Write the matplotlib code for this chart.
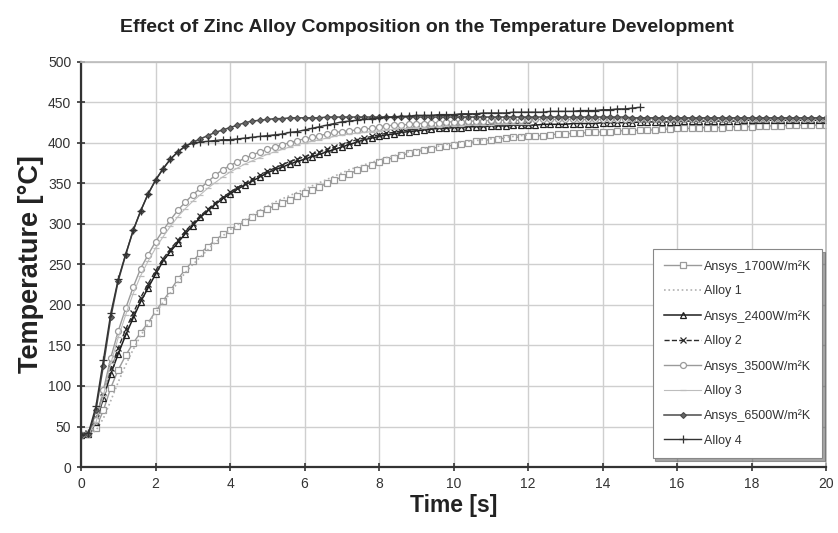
import numpy as np
import matplotlib
matplotlib.use("Agg")
import matplotlib.pyplot as plt

plt.rcParams['font.family'] = ['Liberation Sans', 'DejaVu Sans']

# time grid (s), 0.2 s sampling
time_s = np.round(np.arange(0, 20.001, 0.2), 1)

ansys_1700 = [40, 41, 48, 70, 98, 120, 138, 153, 166, 178,
              192, 205, 218, 232, 244, 254, 264, 272, 280, 287,
              293, 298, 303, 309, 314, 319, 322, 326, 330, 334,
              338, 342, 346, 350, 354, 358, 362, 366, 369, 373,
              376, 379, 382, 385, 387, 389, 391, 393, 395, 396,
              397, 399, 400, 402, 403, 404, 405, 406, 407, 407,
              408, 409, 409, 410, 411, 411, 412, 412, 413, 413,
              414, 414, 415, 415, 415, 416, 416, 416, 417, 417,
              418, 418, 418, 419, 419, 419, 419, 420, 420, 420,
              420, 421, 421, 421, 421, 422, 422, 422, 422, 422,
              422]
alloy_1 = [40, 40, 45, 60, 82, 105, 126, 145, 162, 177,
           190, 203, 215, 228, 240, 250, 259, 268, 277, 285,
           293, 299, 305, 311, 317, 322, 327, 331, 335, 339,
           343, 347, 351, 355, 359, 363, 367, 370, 373, 376,
           379, 382, 384, 387, 389, 391, 393, 395, 396, 398,
           400, 401, 402, 403, 404, 405, 406, 407, 408, 409,
           410]
ansys_2400 = [40, 41, 55, 85, 115, 140, 163, 184, 204, 221,
              238, 254, 266, 277, 288, 298, 308, 316, 324, 331,
              337, 343, 348, 353, 358, 363, 367, 370, 374, 377,
              380, 383, 386, 389, 392, 395, 398, 401, 404, 406,
              408, 410, 411, 413, 414, 415, 416, 417, 418, 418,
              419, 419, 420, 420, 420, 421, 421, 421, 422, 422,
              422, 422, 423, 423, 423, 423, 424, 424, 424, 424,
              425, 425, 425, 425, 425, 426, 426, 426, 426, 426,
              426, 427, 427, 427, 427, 427, 427, 427, 427, 428,
              428, 428, 428, 428, 428, 428, 428, 428, 428, 428,
              428]
alloy_2 = [40, 42, 60, 92, 122, 147, 170, 190, 209, 226,
           242, 257, 269, 280, 291, 301, 310, 318, 326, 333,
           339, 345, 350, 355, 360, 365, 369, 373, 377, 380,
           383, 386, 389, 392, 395, 398, 401, 404, 406, 408,
           410, 412, 413, 415, 416, 417, 418, 419, 420, 420,
           421, 421, 422, 422, 422, 423, 423, 423, 424, 424,
           424]
ansys_3500 = [40, 41, 58, 95, 135, 168, 196, 222, 245, 262,
              278, 292, 305, 317, 327, 336, 344, 352, 360, 367,
              372, 377, 381, 385, 389, 392, 395, 398, 400, 403,
              405, 407, 409, 411, 413, 414, 415, 416, 417, 418,
              420, 421, 422, 422, 423, 424, 424, 425, 425, 426,
              426, 426, 427, 427, 427, 428, 428, 428, 428, 428,
              429, 429, 429, 429, 429, 429, 429, 429, 429, 429,
              429, 429, 430, 430, 430, 430, 430, 430, 430, 430,
              430, 430, 430, 430, 430, 430, 430, 430, 430, 430,
              430, 430, 430, 430, 430, 430, 430, 430, 430, 430,
              430]
alloy_3 = [40, 41, 55, 88, 128, 160, 188, 214, 236, 254,
           270, 284, 297, 309, 319, 328, 336, 344, 351, 358,
           364, 369, 374, 378, 382, 386, 389, 392, 395, 398,
           400, 402, 404, 406, 408, 410, 411, 412, 413, 414,
           415, 416, 417, 418, 418, 419, 419, 420, 420, 421,
           421, 421, 422, 422, 422, 422, 423, 423, 423, 423,
           423]
ansys_6500 = [40, 41, 70, 125, 185, 230, 262, 292, 316, 337,
              354, 368, 380, 389, 396, 401, 405, 409, 413, 416,
              419, 422, 425, 427, 428, 429, 430, 430, 431, 431,
              431, 431, 431, 432, 432, 432, 432, 432, 432, 432,
              432, 432, 432, 432, 432, 432, 432, 432, 432, 432,
              432, 432, 432, 432, 432, 432, 432, 432, 432, 432,
              432, 432, 432, 432, 432, 432, 432, 432, 432, 432,
              432, 432, 432, 432, 431, 431, 431, 431, 431, 431,
              431, 431, 431, 431, 431, 431, 431, 431, 431, 431,
              431, 431, 431, 431, 431, 431, 431, 431, 431, 431,
              431]
alloy_4 = [40, 42, 75, 132, 190, 232, 263, 292, 316, 337,
           354, 368, 380, 389, 396, 400, 401, 402, 403, 404,
           404, 405, 406, 407, 408, 409, 410, 411, 413, 414,
           416, 418, 420, 422, 424, 426, 427, 428, 429, 430,
           431, 432, 432, 433, 433, 434, 434, 434, 435, 435,
           435, 436, 436, 436, 437, 437, 437, 437, 438, 438,
           438, 438, 438, 439, 439, 439, 439, 440, 440, 440,
           441, 441, 442, 442, 443, 444]

labels = ["Ansys_1700W/m²K", "Alloy 1", "Ansys_2400W/m²K", "Alloy 2",
          "Ansys_3500W/m²K", "Alloy 3", "Ansys_6500W/m²K", "Alloy 4"]
x_ticks = list(range(0, 21, 2))
y_ticks = list(range(0, 501, 50))

fig = plt.figure(figsize=(8.38, 5.33), dpi=100)
ax = fig.add_axes([0.0967, 0.1238, 0.889, 0.760])

series = [ansys_1700, alloy_1, ansys_2400, alloy_2, ansys_3500, alloy_3, ansys_6500, alloy_4]
styles = [
    dict(color='#9a9a9a', lw=1.0, ls='-', marker='s', ms=3.8, mfc='white', mew=0.9),
    dict(color='#b0b0b0', lw=1.2, ls=':', marker=None),
    dict(color='#1e1e1e', lw=1.1, ls='-', marker='^', ms=3.8, mfc='none', mew=0.9),
    dict(color='#2a2a2a', lw=1.0, ls='--', marker='x', ms=4.2, mew=0.9),
    dict(color='#9a9a9a', lw=1.0, ls='-', marker='o', ms=4.3, mfc='white', mew=0.9),
    dict(color='#bdbdbd', lw=0.8, ls='-', marker='_', ms=5, mew=0.9),
    dict(color='#4a4a4a', lw=1.1, ls='-', marker='D', ms=3, mfc='#666666', mew=0.8),
    dict(color='#333333', lw=1.0, ls='-', marker='+', ms=6, mew=0.9),
]
for vals, lab, st in zip(series, labels, styles):
    ax.plot(time_s[:len(vals)], vals, label=lab, **st)

ax.set_xlim(0, 20)
ax.set_ylim(0, 500)
ax.set_xticks(x_ticks)
ax.set_yticks(y_ticks)
ax.grid(True, color='#cfcfcf', lw=1.0)
ax.set_axisbelow(True)
for s in ['top', 'right']:
    ax.spines[s].set_color('#bbbbbb')
    ax.spines[s].set_linewidth(1.2)
for s in ['left', 'bottom']:
    ax.spines[s].set_color('#333333')
    ax.spines[s].set_linewidth(1.6)
ax.tick_params(axis='both', direction='inout', length=6, width=1.2, color='#333333',
               labelsize=10, labelcolor='#333333', pad=4)

ax.set_xlabel("Time [s]", fontsize=16.5, fontweight='bold', color='#222222', labelpad=2)
ax.set_ylabel("Temperature [°C]", fontsize=19.5, fontweight='bold', color='#222222', labelpad=3)
fig.text(0.509, 0.948, "Effect of Zinc Alloy Composition on the Temperature Development",
         ha='center', va='center', fontsize=14, fontweight='bold', color='#222222')

leg = ax.legend(loc='lower right', bbox_to_anchor=(0.995, 0.022), fontsize=9,
                labelspacing=1.0, handlelength=3.0, handletextpad=0.2,
                borderpad=0.9, borderaxespad=0, fancybox=False, shadow=True, framealpha=1)
leg.get_frame().set_edgecolor('#888888')
leg.get_frame().set_linewidth(0.8)
for t in leg.get_texts():
    t.set_color('#333333')

fig.savefig("out.png", dpi=100)
